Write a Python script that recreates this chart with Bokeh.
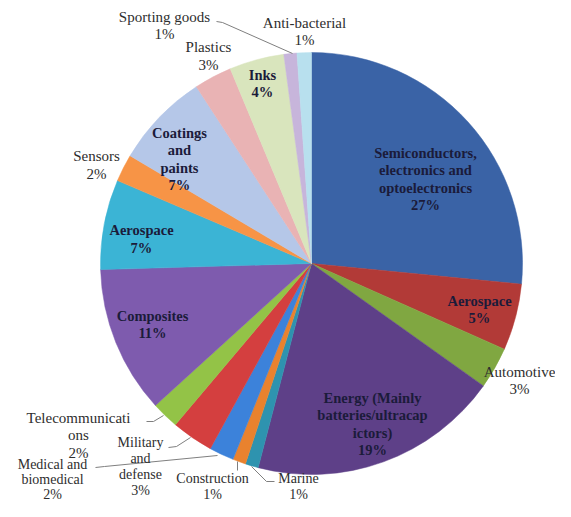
from bokeh.plotting import figure
from bokeh.models import ColumnDataSource, Range1d
from bokeh.core.properties import value
from bokeh.embed import file_html
from bokeh.resources import INLINE
import math

# ---- data (clockwise from 12 o'clock) ----
categories = ["Semiconductors, electronics and optoelectronics", "Aerospace", "Automotive",
              "Energy (Mainly batteries/ultracapacitors)", "Marine", "Construction",
              "Medical and biomedical", "Military and defense", "Telecommunications",
              "Composites", "Aerospace", "Sensors", "Coatings and paints", "Plastics",
              "Inks", "Sporting goods", "Anti-bacterial"]
shares = [26.6, 5.1, 3.2, 19.25, 1.0, 1.0, 1.9, 3.2, 2.1, 11.3, 6.9, 2.1, 7.3, 2.9, 4.2, 1.0, 1.1]
pct_labels = ["27%", "5%", "3%", "19%", "1%", "1%", "2%", "3%", "2%", "11%", "7%", "2%", "7%", "3%", "4%", "1%", "1%"]
label_names = ["Semiconductors,\nelectronics and\noptoelectronics", "Aerospace", "Automotive",
               "Energy (Mainly\nbatteries/ultracap\nictors)", "Marine", "Construction",
               "Medical and\nbiomedical", "Military\nand\ndefense", "Telecommunicati\nons",
               "Composites", "Aerospace", "Sensors", "Coatings\nand\npaints", "Plastics",
               "Inks", "Sporting goods", "Anti-bacterial"]

# ---- styles / layout ----
colors = ["#3A63A6", "#B23A37", "#80A741", "#5E4088", "#2E93AF", "#E9822E", "#3C82DA",
          "#D43F3F", "#93C347", "#7E5BAE", "#3BB4D5", "#F79446", "#B5C7E8", "#E9B3B4",
          "#D9E5BD", "#C7B5DB", "#B8E0EE"]
inside = [True, True, False, True, False, False, False, False, False,
          True, True, False, True, False, True, False, False]
# label block centres in picture pixels (x, y from top), font size, line height
label_pos = [(425, 178.5), (479, 309), (519, 380), (372, 423.5), (298, 486), (212, 486),
             (52, 479), (140, 466), (78, 435), (152, 324), (141, 238.5), (96, 164.5),
             (179, 158.5), (208, 55.5), (262, 83), (164, 25), (304, 31)]
label_size = ["14.5px", "14.5px", "15px", "14.5px", "14px", "14px", "14px", "14px", "15px",
              "14.5px", "14.5px", "15px", "14.5px", "15px", "14.5px", "15px", "15px"]
label_lh = [1.1, 1.1, 1.1, 1.1, 1.05, 1.05, 1.0, 1.05, 1.1,
            1.1, 1.1, 1.1, 1.1, 1.1, 1.1, 1.1, 1.1]
leaders = [
    [(216, 21), (222, 22), (292, 53)],
    [(146, 421), (153, 421), (163, 415)],
    [(168, 447), (176, 446), (190, 437)],
    [(95, 467), (104, 466), (217, 455)],
    [(237, 461), (237, 470)],
    [(274, 481), (266, 481), (251, 466)],
]

W, H = 555, 501
PAGE_H = 517
cx, cy, r = 311, PAGE_H - 263, 211
FONT = value("'Liberation Serif', 'DejaVu Serif', serif")


def Y(yy):
    return PAGE_H - yy


total = sum(shares)
starts, ends = [], []
cum = 0.0
for s in shares:
    starts.append(math.pi / 2 - 2 * math.pi * cum / total)
    cum += s
    ends.append(math.pi / 2 - 2 * math.pi * cum / total)

p = figure(width=W, height=H, x_range=Range1d(0, W), y_range=Range1d(PAGE_H - H, PAGE_H),
           toolbar_location=None, output_backend="svg", x_axis_location=None, y_axis_location=None,
           min_border=0, outline_line_color=None, background_fill_color="white")
p.grid.visible = False

wsrc = ColumnDataSource(dict(start=starts, end=ends, color=colors, name=categories))
p.wedge(x=cx, y=cy, radius=r, start_angle="start", end_angle="end", direction="clock",
        fill_color="color", line_color="color", line_width=0.5, source=wsrc)

p.multi_line(xs=[[pt[0] for pt in l] for l in leaders], ys=[[Y(pt[1]) for pt in l] for l in leaders],
             line_color="#7f7f7f", line_width=1)

for i in range(len(categories)):
    p.text(x=[label_pos[i][0]], y=[Y(label_pos[i][1])], text=[label_names[i] + "\n" + pct_labels[i]],
           text_font=FONT, text_font_size=label_size[i],
           text_font_style="bold" if inside[i] else "normal",
           text_color="#1b1b3a" if inside[i] else "#2e2e2e",
           text_align="center", text_baseline="middle", text_line_height=label_lh[i])

open("out.html", "w").write(file_html(p, INLINE))
